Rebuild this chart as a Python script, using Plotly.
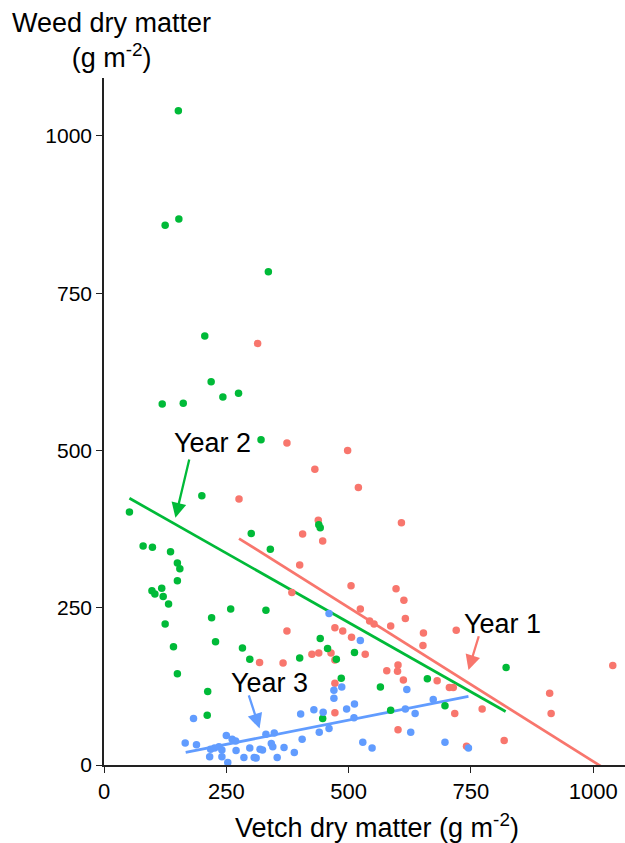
import plotly.graph_objects as go

# ---------------- data ----------------
year1_x = [314, 374, 498, 431, 520, 276, 438, 406, 447, 608, 400, 384, 505, 524, 374, 472, 488, 506,
           425, 439, 464, 472, 318, 366, 472, 472, 543, 552, 534, 597, 613, 616, 586, 653, 720, 652,
           601, 600, 578, 612, 681, 706, 714, 717, 773, 601, 741, 672, 770, 911, 914, 818, 1040]
year1_y = [670, 512, 500, 470, 441, 423, 389, 367, 356, 385, 318, 274, 285, 248, 213, 218, 213, 203,
           176, 178, 178, 167, 163, 162, 130, 83, 229, 224, 176, 280, 262, 233, 221, 210, 214, 190,
           159, 149, 150, 135, 134, 123, 123, 82, 89, 56, 30, -3, -3, 114, 82, 39, 158]

year2_x = [152, 125, 153, 336, 206, 219, 243, 275, 119, 162, 321, 200, 52, 301, 340, 80, 99, 136,
           150, 155, 150, 98, 104, 118, 121, 132, 125, 142, 150, 212, 211, 60, 259, 331, 220, 228,
           283, 298, 400, 442, 457, 475, 485, 447, 512, 439, 442, 565, 661, 586, 697, 822]
year2_y = [1040, 858, 868, 784, 682, 609, 585, 591, 574, 575, 517, 428, 402, 368, 343, 348, 346, 339,
           321, 312, 293, 277, 272, 281, 268, 256, 224, 188, 145, 117, 79, -2, 248, 246, 234, 196,
           186, 168, 170, 201, 185, 168, 138, 74, 179, 382, 377, 124, 137, 87, 94, 155]

year3_x = [166, 189, 183, 216, 241, 253, 250, 262, 269, 218, 226, 235, 241, 270, 298, 286, 307, 311,
           319, 324, 331, 348, 342, 345, 354, 368, 389, 402, 405, 429, 448, 440, 460, 460, 470, 486,
           470, 496, 512, 511, 524, 529, 548, 619, 616, 636, 673, 627, 697, 745]
year3_y = [35, 32, 74, 13, 13, 4, 47, 41, 38, 25, 27, 29, 24, 23, 27, 12, 12, 11,
           25, 24, 49, 51, 34, 29, 12, 28, 20, 81, 41, 88, 84, 52, 58, 241, 119, 124,
           106, 89, 97, 75, 198, 36, 27, 120, 89, 82, 104, 52, 36, 27]

# fitted regression lines (end points)
fit1_x = [276, 1028]
fit1_y = [360, -8]
fit2_x = [52, 821]
fit2_y = [424, 85]
fit3_x = [167, 745]
fit3_y = [20, 109]

series_names = ["Year 1", "Year 2", "Year 3"]
series_colors = ["#F8766D", "#00BA38", "#619CFF"]

# label positions and arrows (tail -> head), in data units
label_x = [814, 222, 339]
label_y = [224, 512, 130]
arrow_tail_x = [767, 175, 295]
arrow_tail_y = [207, 488, 113]
arrow_head_x = [745, 146, 318]
arrow_head_y = [151, 393, 58]

x_ticks = [0, 250, 500, 750, 1000]
y_ticks = [0, 250, 500, 750, 1000]

FONT = "Liberation Sans, Arial, Helvetica, sans-serif"

fig = go.Figure()

pts = [(year1_x, year1_y), (year2_x, year2_y), (year3_x, year3_y)]
fits = [(fit1_x, fit1_y), (fit2_x, fit2_y), (fit3_x, fit3_y)]

for (fx, fy), col, nm in zip(fits, series_colors, series_names):
    fig.add_trace(go.Scatter(x=fx, y=fy, mode="lines", line=dict(color=col, width=2.7),
                             name=nm, showlegend=False, hoverinfo="skip"))

for (px, py), col, nm in zip(pts, series_colors, series_names):
    fig.add_trace(go.Scatter(x=px, y=py, mode="markers", cliponaxis=False,
                             marker=dict(color=col, size=7.5, line=dict(width=0)),
                             name=nm, showlegend=False))

annotations = []
for i in range(3):
    annotations.append(dict(x=label_x[i], y=label_y[i], xref="x", yref="y", text=series_names[i],
                            showarrow=False, font=dict(family=FONT, size=27, color="#000000")))
    annotations.append(dict(x=arrow_head_x[i], y=arrow_head_y[i], xref="x", yref="y",
                            ax=arrow_tail_x[i], ay=arrow_tail_y[i], axref="x", ayref="y",
                            text="", showarrow=True, arrowhead=2, arrowsize=1.3, arrowwidth=2.3,
                            arrowcolor=series_colors[i]))

annotations.append(dict(x=0.015, y=1.055, xref="paper", yref="paper",
                        text="Weed dry matter<br>(g m<sup>-2</sup>)", showarrow=False,
                        xanchor="center", yanchor="middle",
                        font=dict(family=FONT, size=27, color="#000000")))
annotations.append(dict(x=0.524, y=-0.089, xref="paper", yref="paper",
                        text="Vetch dry matter (g m<sup>-2</sup>)", showarrow=False,
                        xanchor="center", yanchor="middle",
                        font=dict(family=FONT, size=27, color="#000000")))

fig.update_layout(
    width=625, height=843,
    margin=dict(l=104, r=0, t=78, b=78),
    paper_bgcolor="white", plot_bgcolor="white",
    font=dict(family=FONT, size=20, color="#000000"),
    annotations=annotations,
    xaxis=dict(range=[0, 1065], tickvals=x_ticks, showgrid=False, zeroline=False,
               showline=True, linecolor="#222222", linewidth=1.6,
               ticks="outside", ticklen=6, tickwidth=1.4, tickcolor="#222222",
               tickfont=dict(family=FONT, size=22, color="#000000")),
    yaxis=dict(range=[0, 1092], tickvals=y_ticks, showgrid=False, zeroline=False,
               showline=True, linecolor="#222222", linewidth=1.6,
               ticks="outside", ticklen=6, tickwidth=1.4, tickcolor="#222222",
               tickfont=dict(family=FONT, size=21, color="#000000")),
)

fig.write_html("out.html", config={"displayModeBar": False},
               post_script="document.body.style.margin='0';document.body.style.padding='0';")
